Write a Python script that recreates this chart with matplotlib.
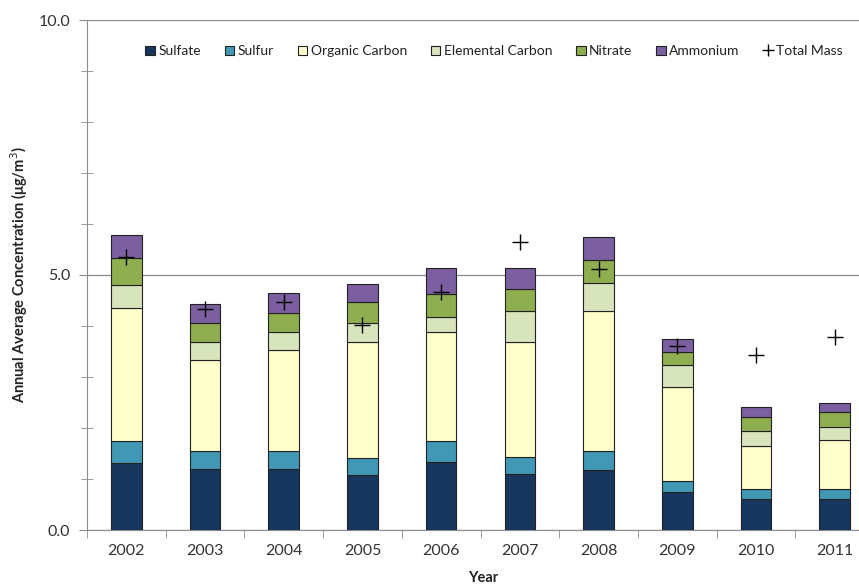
import numpy as np
import matplotlib
matplotlib.use("Agg")
import matplotlib.pyplot as plt
from matplotlib.ticker import MultipleLocator

plt.rcParams['font.family'] = ['Lato', 'DejaVu Sans']

years = ['2002', '2003', '2004', '2005', '2006', '2007', '2008', '2009', '2010', '2011']
sulfate = [1.31, 1.20, 1.20, 1.08, 1.33, 1.09, 1.17, 0.74, 0.61, 0.61]
sulfur = [0.43, 0.34, 0.34, 0.34, 0.41, 0.35, 0.37, 0.23, 0.19, 0.20]
organic_carbon = [2.61, 1.79, 1.98, 2.26, 2.15, 2.25, 2.75, 1.83, 0.85, 0.95]
elemental_carbon = [0.45, 0.35, 0.36, 0.38, 0.29, 0.60, 0.55, 0.44, 0.29, 0.25]
nitrate = [0.54, 0.38, 0.37, 0.41, 0.45, 0.43, 0.46, 0.26, 0.27, 0.31]
ammonium = [0.45, 0.37, 0.39, 0.35, 0.51, 0.42, 0.45, 0.24, 0.20, 0.17]
total_mass = [5.36, 4.33, 4.48, 4.01, 4.66, 5.65, 5.12, 3.61, 3.44, 3.79]

series = [
    ('Sulfate', sulfate, '#17375E'),
    ('Sulfur', sulfur, '#4198B5'),
    ('Organic Carbon', organic_carbon, '#FFFFCC'),
    ('Elemental Carbon', elemental_carbon, '#D8E4BC'),
    ('Nitrate', nitrate, '#8EAE4F'),
    ('Ammonium', ammonium, '#7B5FA0'),
]

fig = plt.figure(figsize=(8.59, 5.85), dpi=100)
# axes runs past the right edge, like the cropped original
ax = fig.add_axes([87 / 859, 55 / 585, 787 / 859, 510 / 585])

x = np.arange(len(years))
bottom = np.zeros(len(years))
for name, vals, col in series:
    ax.bar(x, vals, width=0.39, bottom=bottom, color=col, edgecolor='#222222',
           linewidth=0.8, label=name, zorder=3)
    bottom += np.array(vals)

ax.plot(x, total_mass, linestyle='none', marker='+', markersize=11,
        markeredgewidth=1.0, color='black', label='Total Mass', zorder=4)

ax.set_xlim(-0.5, len(years) - 0.5)
ax.set_ylim(0, 10)
ax.yaxis.set_major_locator(MultipleLocator(5))
ax.yaxis.set_minor_locator(MultipleLocator(1))
ax.yaxis.set_major_formatter(matplotlib.ticker.FormatStrFormatter('%.1f'))
ax.grid(axis='y', which='major', color='#8c8c8c', linewidth=0.9, zorder=0)

ax.set_xticks(x)
ax.set_xticklabels(years)
ax.set_xticks(np.arange(len(years) + 1) - 0.5, minor=True)
ax.tick_params(axis='x', which='major', length=0, pad=10, labelsize=11.5, labelcolor='#333333')
ax.tick_params(axis='x', which='minor', length=6, direction='out', color='#8c8c8c')
ax.tick_params(axis='y', which='major', length=6, direction='out', color='#8c8c8c',
               labelsize=11.5, labelcolor='#333333', pad=6)
ax.tick_params(axis='y', which='minor', length=8, direction='inout', color='#8c8c8c')

for s in ['top', 'right']:
    ax.spines[s].set_visible(False)
ax.spines['left'].set_color('#8c8c8c')
ax.spines['bottom'].set_color('#8c8c8c')

ax.set_ylabel('Annual Average Concentration (\u03bcg/m$^3$)', fontsize=10.5,
              fontweight='bold', color='#222222')
ax.yaxis.set_label_coords(-57 / 787, 0.5)
ax.set_xlabel('Year', fontsize=10.5, fontweight='bold', color='#222222')
ax.xaxis.set_label_coords((483 - 87) / 787, -0.08)

handles, labels = ax.get_legend_handles_labels()
handles = handles[1:] + handles[:1]
labels = labels[1:] + labels[:1]
ax.legend(handles, labels, loc='upper left', bbox_to_anchor=(0.058, 0.975), ncol=7,
          frameon=False, fontsize=10, handlelength=0.7, handleheight=0.7,
          handletextpad=0.25, columnspacing=1.7, labelcolor='#222222', markerscale=0.8)

fig.savefig('out.png', dpi=100)
